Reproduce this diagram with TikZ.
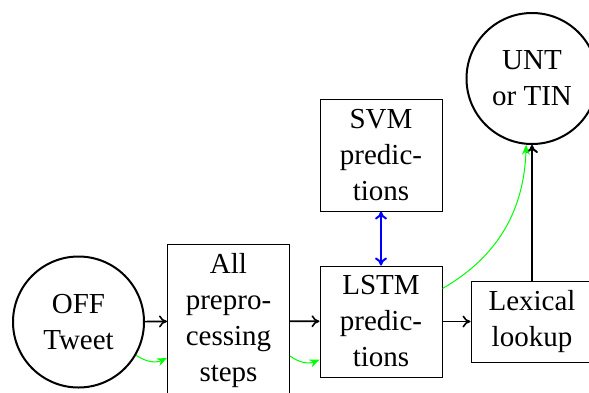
\documentclass[tikz,border=0pt]{standalone}
\usepackage{fontspec}
\setmainfont{Liberation Serif}
\usetikzlibrary{arrows.meta}
\begin{document}
\begin{tikzpicture}[x=0.5pt,y=-0.5pt,
  every node/.style={font=\fontsize{14.5}{18}\selectfont, align=center, inner sep=0pt},
  roundnode/.style={circle, draw, line width=1pt, minimum size=65.5pt},
  boxnode/.style={rectangle, draw, line width=0.5pt, minimum width=61pt},
  flow/.style={-{To[length=4pt,width=6pt]}, line width=0.8pt},
  greenflow/.style={-{Stealth[length=5pt,width=4pt]}, green, line width=0.5pt},
  blueflow/.style={{To[length=4pt,width=6pt]}-{To[length=4pt,width=6pt]}, blue, line width=1pt}]
\useasboundingbox (0,0) rectangle (589,392);
\node[roundnode] (off) at (78.5,322) {OFF\\Tweet};
\node[boxnode, minimum height=77pt] (all) at (228.5,321) {All\\prepro-\\cessing\\steps};
\node[boxnode, minimum height=55.5pt] (lstm) at (381,321.5) {LSTM\\predic-\\tions};
\node[boxnode, minimum height=56pt] (svm) at (381,155) {SVM\\predic-\\tions};
\node[boxnode, minimum height=40.5pt] (lex) at (532,321.5) {Lexical\\lookup};
\node[roundnode] (unt) at (532,78.5) {UNT\\or TIN};
\draw[flow] (off) -- (all);
\draw[flow] (all) -- (lstm);
\draw[flow] (lstm) -- (lex);
\draw[flow, line width=1pt] (lex) -- (unt);
\draw[blueflow] (svm) -- (lstm);
\draw[greenflow] (off.-30) to[bend right=30] ([yshift=-18.5pt]all.west);
\draw[greenflow] ([yshift=-17.5pt]all.east) to[bend right=30] ([yshift=-19pt]lstm.west);
\draw[greenflow] ([yshift=16.5pt]lstm.east) to[out=30,in=-92] (unt.265);
\end{tikzpicture}
\end{document}
